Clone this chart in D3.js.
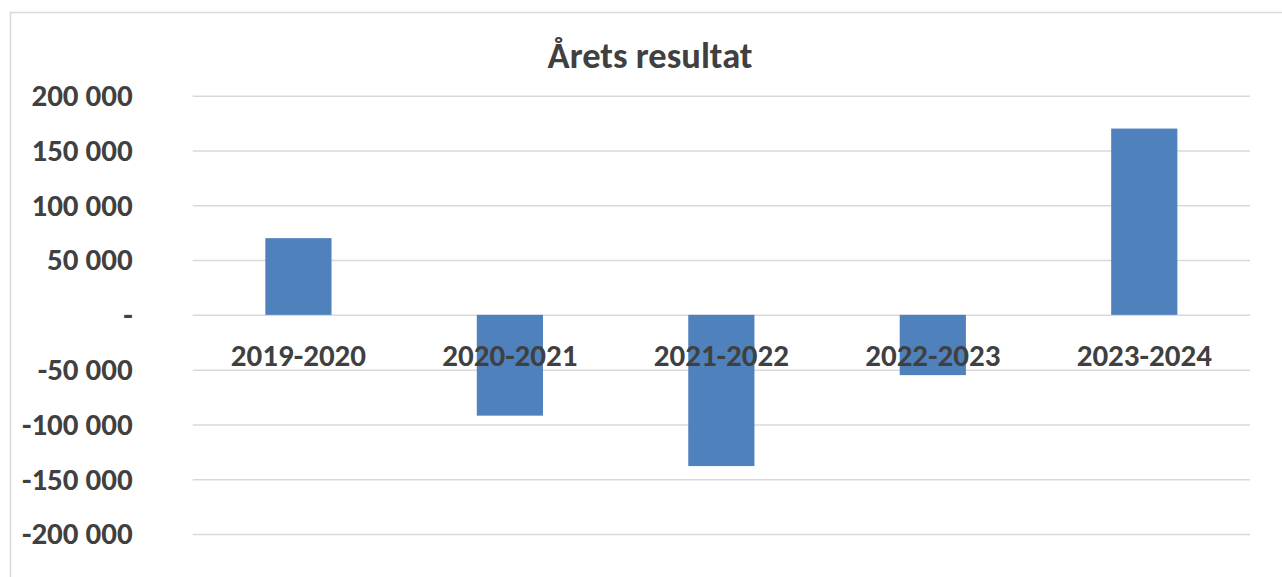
<!DOCTYPE html>
<html>
<head>
<meta charset="utf-8">
<script src="https://cdn.jsdelivr.net/npm/d3@7"></script>
<style>
  html, body { margin: 0; padding: 0; background: #fff; }
  svg { display: block; }
  text { font-family: Carlito, Calibri, "Liberation Sans Narrow", "Open Sans", sans-serif; font-weight: bold; fill: #404040; }
</style>
</head>
<body>
<svg id="chart" width="1282" height="577"></svg>
<script>
const title = "Årets resultat";
const periods = ["2019-2020", "2020-2021", "2021-2022", "2022-2023", "2023-2024"];
const results = [70000, -92000, -138000, -55000, 170000];
const yTicks = [200000, 150000, 100000, 50000, 0, -50000, -100000, -150000, -200000];

const width = 1282;
const height = 577;

const svg = d3.select("#chart")
  .attr("viewBox", [0, 0, width, height]);

// chart area frame (runs off the right and bottom edge)
svg.append("rect")
  .attr("x", 10.5)
  .attr("y", 12.5)
  .attr("width", width + 20)
  .attr("height", height + 20)
  .attr("fill", "#fff")
  .attr("stroke", "#d9d9d9")
  .attr("stroke-width", 1.5);

const x = d3.scaleBand()
  .domain(periods)
  .range([192.7, 1250])
  .paddingInner(0.687)
  .paddingOuter(0.3435);

const y = d3.scaleLinear()
  .domain([-200000, 200000])
  .range([534, 95.7]);

const sv = d3.formatLocale({ decimal: ",", thousands: " ", grouping: [3], currency: ["", " kr"], minus: "-" });
const fmt = (d) => (d === 0 ? "-" : sv.format(",d")(d));

svg.append("text")
  .attr("x", 650)
  .attr("y", 68)
  .attr("text-anchor", "middle")
  .style("font-size", "36.5px")
  .text(title);

// gridlines + y labels
const yAxis = svg.append("g")
  .attr("transform", `translate(${x.range()[0]},0)`)
  .call(
    d3.axisLeft(y)
      .tickValues(yTicks)
      .tickSize(-(x.range()[1] - x.range()[0]))
      .tickPadding(60)
      .tickFormat(fmt)
  );
yAxis.select(".domain").remove();
yAxis.selectAll(".tick line")
  .attr("stroke", "#d9d9d9")
  .attr("stroke-width", 1.5);
yAxis.selectAll(".tick text")
  .attr("fill", "#404040")
  .attr("dy", "0.32em")
  .style("font-size", "31px");

svg.append("g")
  .selectAll("rect")
  .data(periods.map((p, i) => ({ p, v: results[i] })))
  .join("rect")
  .attr("x", (d) => x(d.p))
  .attr("width", x.bandwidth())
  .attr("y", (d) => y(Math.max(0, d.v)))
  .attr("height", (d) => Math.abs(y(d.v) - y(0)))
  .attr("fill", "#4f81bd");

// category labels sit just under the zero line, over the bars
svg.append("g")
  .selectAll("text")
  .data(periods)
  .join("text")
  .attr("x", (d) => x(d) + x.bandwidth() / 2)
  .attr("y", y(0) + 51)
  .attr("text-anchor", "middle")
  .style("font-size", "31px")
  .text((d) => d);
</script>
</body>
</html>
